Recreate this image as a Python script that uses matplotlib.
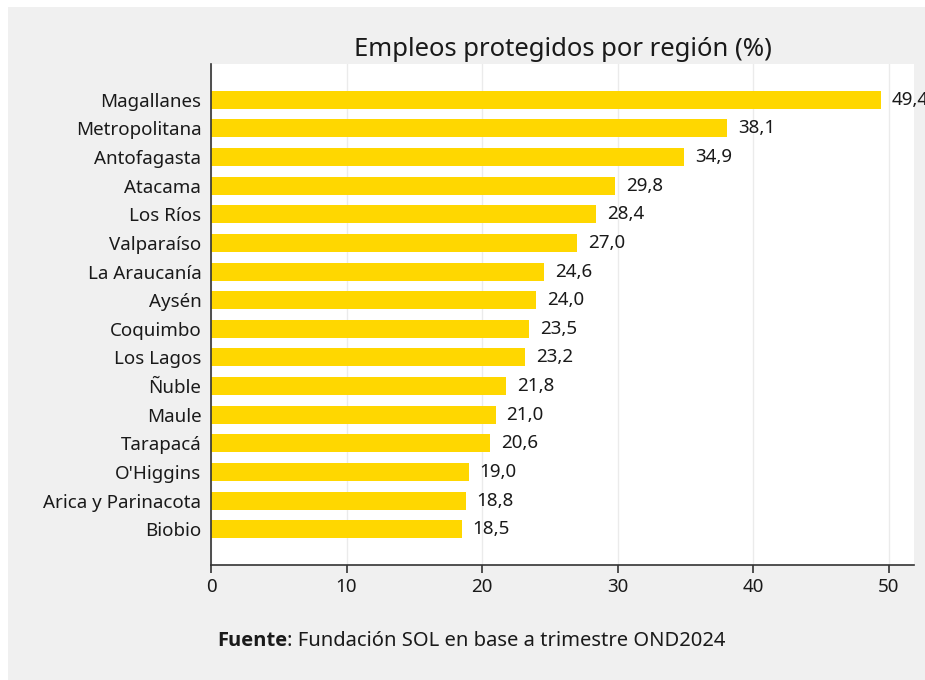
import matplotlib.pyplot as plt
from matplotlib.patches import Rectangle

plt.rcParams['font.family'] = ['Noto Sans', 'DejaVu Sans']

regiones = ["Magallanes", "Metropolitana", "Antofagasta", "Atacama", "Los Ríos",
            "Valparaíso", "La Araucanía", "Aysén", "Coquimbo", "Los Lagos",
            "Ñuble", "Maule", "Tarapacá", "O'Higgins", "Arica y Parinacota", "Biobio"]
valores = [49.4, 38.1, 34.9, 29.8, 28.4, 27.0, 24.6, 24.0, 23.5, 23.2,
           21.8, 21.0, 20.6, 19.0, 18.8, 18.5]
ticks_x = [0, 10, 20, 30, 40, 50]

fig = plt.figure(figsize=(9.25, 6.8), dpi=100, facecolor='white')
# gray panel behind everything, with a thin white border top/left
fig.patches.append(Rectangle((8 / 925, 0), 1, (680 - 7) / 680, transform=fig.transFigure,
                             facecolor='#f0f0f0', edgecolor='none', zorder=-10))

ax = fig.add_axes([211 / 925, 1 - 565 / 680, (914 - 211) / 925, (565 - 64) / 680])
ax.set_facecolor('white')

pos = list(range(len(regiones)))
ax.barh(pos, valores, height=0.63, color='#ffd700', zorder=2)
for p, v in zip(pos, valores):
    ax.text(v + 0.8, p, f"{v:.1f}".replace('.', ','), va='center', ha='left',
            fontsize=13.5, color='#1a1a1a', zorder=3, clip_on=False)

ax.set_yticks(pos)
ax.set_yticklabels(regiones, fontsize=13.5, color='#1a1a1a')
ax.set_ylim(len(regiones) - 1 + 1.25, -1.25)
ax.set_xlim(0, 49.4 * 1.05)
ax.set_xticks(ticks_x)
ax.set_xticklabels([str(t) for t in ticks_x], fontsize=13.5, color='#1a1a1a')

ax.tick_params(axis='y', length=0, pad=7)
ax.tick_params(axis='x', length=6, width=1.2, color='#333333', pad=3)
ax.grid(axis='x', color='#ebebeb', linewidth=1.0, zorder=0)
ax.set_axisbelow(True)

for s in ['top', 'right']:
    ax.spines[s].set_visible(False)
for s in ['left', 'bottom']:
    ax.spines[s].set_color('#333333')
    ax.spines[s].set_linewidth(1.2)

ax.set_title("Empleos protegidos por región (%)", fontsize=18.5, color='#1a1a1a', pad=6)

# source line: bold "Fuente" followed by regular text
t1 = fig.text(217 / 925, 1 - 641 / 680, "Fuente", ha='left', va='center',
              fontsize=14.5, fontweight='bold', family=['Open Sans', 'DejaVu Sans'],
              color='#1a1a1a')
ax.annotate(": Fundación SOL en base a trimestre OND2024", xy=(1, 0), xycoords=t1,
            ha='left', va='bottom', fontsize=14.5, color='#1a1a1a', annotation_clip=False)

fig.savefig("out.png", dpi=100, facecolor=fig.get_facecolor())
